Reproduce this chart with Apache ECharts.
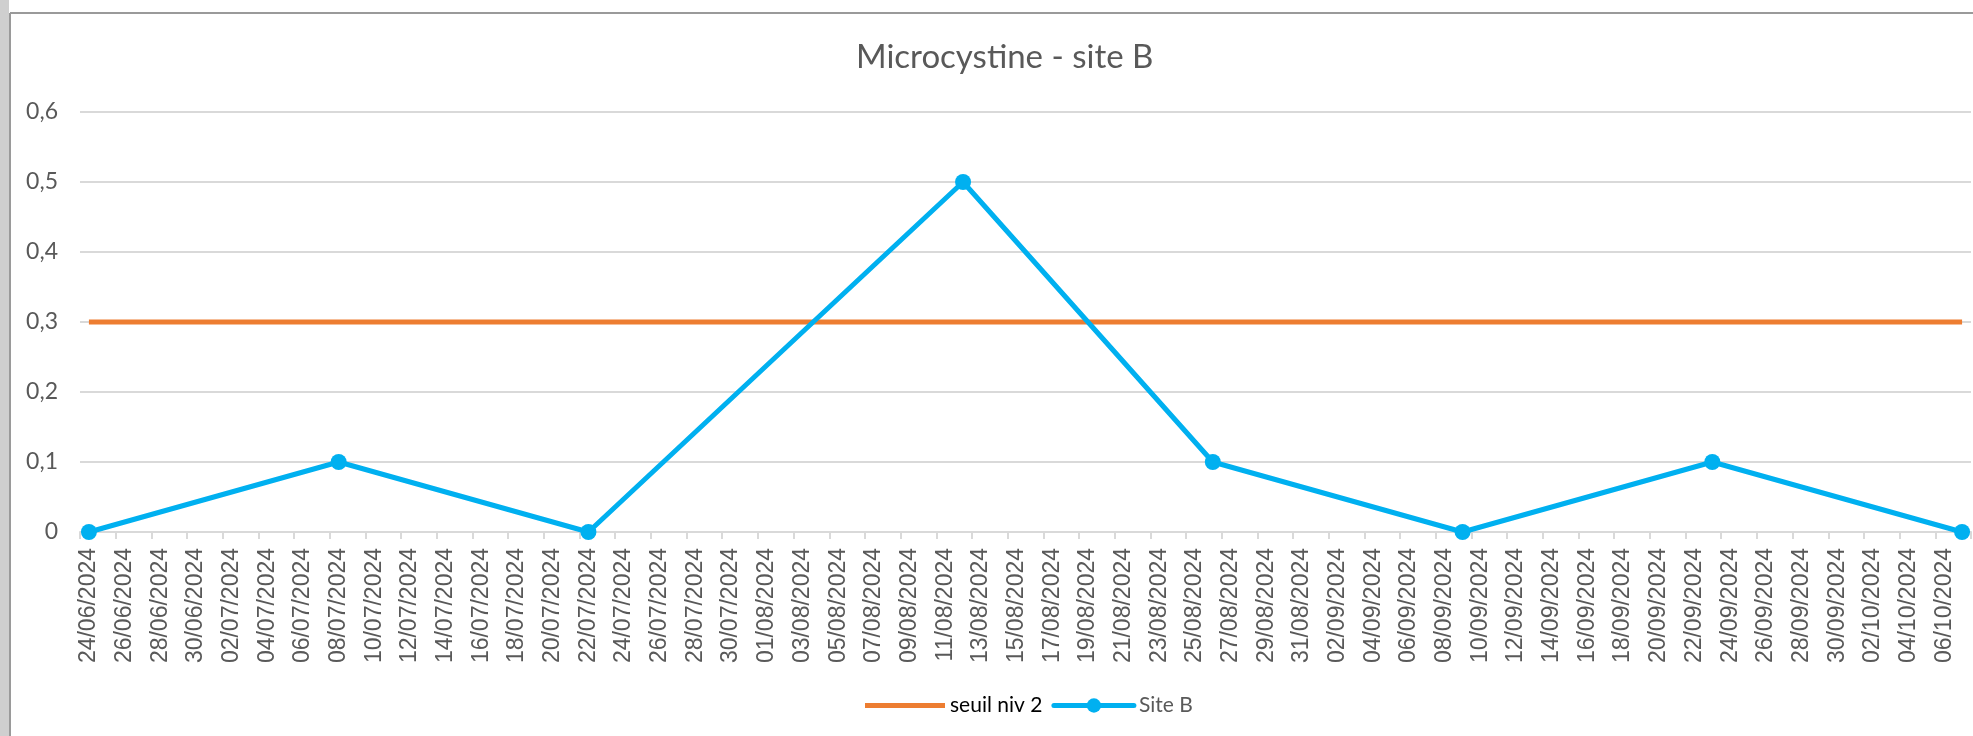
<!DOCTYPE html>
<html>
<head>
<meta charset="utf-8">
<script src="https://cdn.jsdelivr.net/npm/echarts@6/dist/echarts.min.js"></script>
<style>
  html, body { margin: 0; padding: 0; background: #ffffff; }
  #chart { width: 1973px; height: 736px; }
</style>
</head>
<body>
<div id="chart"></div>
<script>
// ---- Data ----
const axisStart = '24/06/2024';
const axisEnd = '07/10/2024';
const sampleDates = ['24/06/2024', '08/07/2024', '22/07/2024', '12/08/2024', '26/08/2024', '09/09/2024', '23/09/2024', '07/10/2024'];
const siteB = [0, 0.1, 0, 0.5, 0.1, 0, 0.1, 0];
const seuilNiv2 = [0.3, 0.3, 0.3, 0.3, 0.3, 0.3, 0.3, 0.3];
const yTicks = [0, 0.1, 0.2, 0.3, 0.4, 0.5, 0.6];

// ---- Build daily category axis ----
function parseFr(s) { const p = s.split('/'); return new Date(Date.UTC(+p[2], +p[1] - 1, +p[0])); }
function fmtFr(d) {
  const dd = String(d.getUTCDate()).padStart(2, '0');
  const mm = String(d.getUTCMonth() + 1).padStart(2, '0');
  return dd + '/' + mm + '/' + d.getUTCFullYear();
}
const categories = [];
for (let d = parseFr(axisStart); d <= parseFr(axisEnd); d = new Date(d.getTime() + 86400000)) {
  categories.push(fmtFr(d));
}
function toSeries(vals) {
  const arr = categories.map(() => '-');
  sampleDates.forEach((s, i) => { arr[categories.indexOf(s)] = vals[i]; });
  return arr;
}

const chart = echarts.init(document.getElementById('chart'), null, { renderer: 'canvas' });
const grey = '#595959';
chart.setOption({
  backgroundColor: '#ffffff',
  animation: false,
  title: {
    text: 'Microcystine - site B',
    left: 851,
    top: 36,
    textStyle: { fontFamily: 'Lato', fontSize: 33, fontWeight: 'normal', color: grey }
  },
  legend: {
    left: 860,
    top: 690,
    itemWidth: 80,
    itemHeight: 18,
    itemGap: 9,
    lineStyle: { width: 5, cap: 'round' },
    textStyle: { fontFamily: 'Lato', fontSize: 21, color: grey, padding: [0, 0, 0, 0] },
    data: [
      { name: 'seuil niv 2', icon: 'path://M0,0L80,0L80,5L0,5Z', textStyle: { color: '#000000' } },
      { name: 'Site B' }
    ]
  },
  grid: { left: 80, right: 2, top: 112, bottom: 204, containLabel: false },
  xAxis: {
    type: 'category',
    data: categories,
    boundaryGap: true,
    axisLine: { lineStyle: { color: '#d9d9d9', width: 2 } },
    axisTick: { show: true, interval: 1, length: 7, lineStyle: { color: '#d9d9d9', width: 2 } },
    axisLabel: {
      interval: 1,
      rotate: 90,
      margin: 16,
      fontFamily: 'Liberation Sans',
      fontSize: 23,
      color: grey
    },
    splitLine: { show: false }
  },
  yAxis: {
    type: 'value',
    min: yTicks[0],
    max: yTicks[yTicks.length - 1],
    interval: 0.1,
    axisLine: { show: false },
    axisTick: { show: false },
    axisLabel: {
      margin: 22,
      fontFamily: 'Lato',
      fontSize: 23,
      color: grey,
      formatter: v => (Math.round(v * 10) / 10).toString().replace('.', ',')
    },
    splitLine: { lineStyle: { color: '#d9d9d9', width: 2 } }
  },
  series: [
    {
      name: 'seuil niv 2',
      type: 'line',
      data: toSeries(seuilNiv2),
      connectNulls: true,
      symbol: 'none',
      color: '#ED7D31',
      itemStyle: { color: '#ED7D31' },
      lineStyle: { color: '#ED7D31', width: 5 },
      z: 2
    },
    {
      name: 'Site B',
      type: 'line',
      data: toSeries(siteB),
      connectNulls: true,
      symbol: 'circle',
      symbolSize: 16,
      showAllSymbol: true,
      color: '#00B0F0',
      itemStyle: { color: '#00B0F0' },
      lineStyle: { color: '#00B0F0', width: 5 },
      z: 3
    }
  ],
  graphic: [
    { type: 'rect', left: 0, top: 0, shape: { width: 9, height: 736 }, style: { fill: '#cfcfcf' }, silent: true },
    { type: 'line', shape: { x1: 10, y1: 13, x2: 10, y2: 736 }, style: { stroke: '#9a9a9a', lineWidth: 2 }, silent: true },
    { type: 'line', shape: { x1: 10, y1: 13, x2: 1973, y2: 13 }, style: { stroke: '#9a9a9a', lineWidth: 2 }, silent: true }
  ]
});
</script>
</body>
</html>
